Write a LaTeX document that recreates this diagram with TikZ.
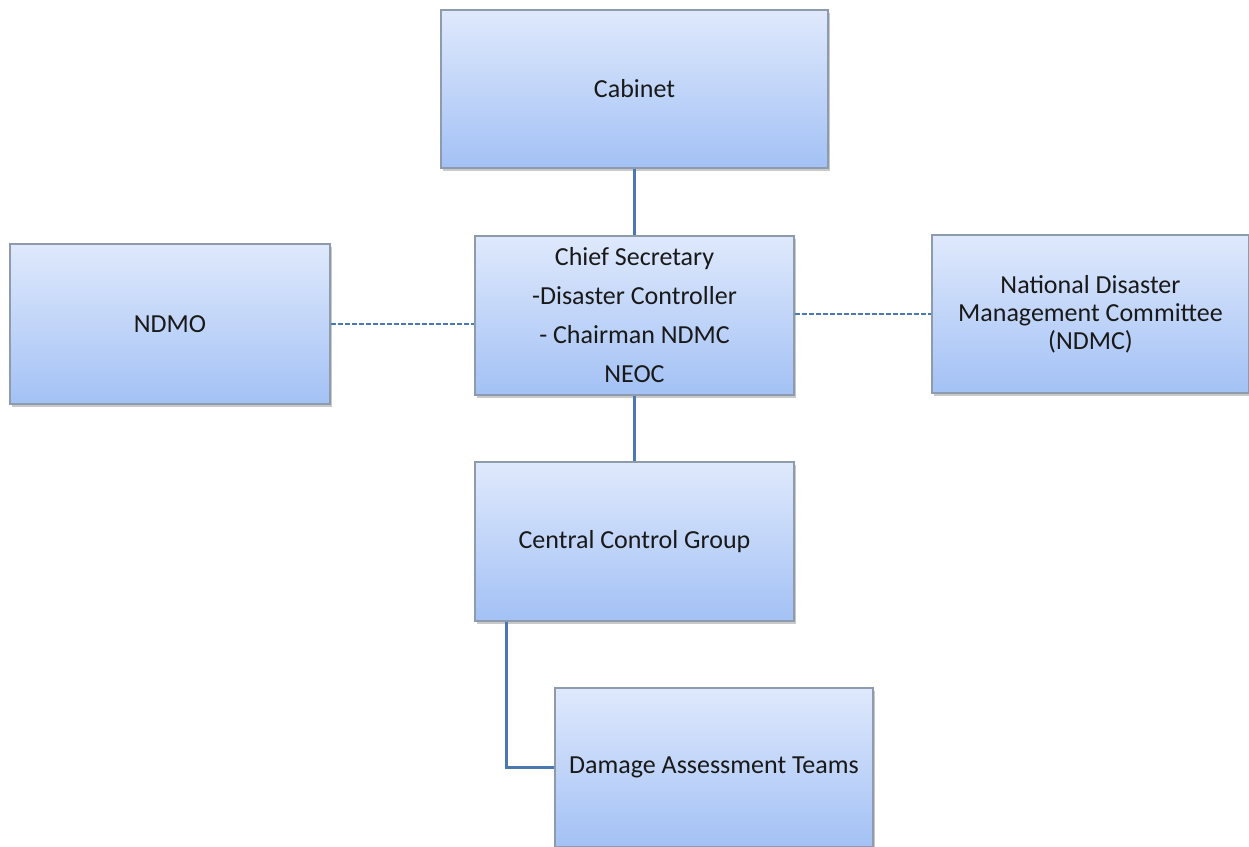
\documentclass[tikz,border=0pt]{standalone}
\usepackage{fontspec}
\setmainfont{Carlito}
\usetikzlibrary{shadows}
\definecolor{boxtop}{HTML}{DFE9FC}
\definecolor{boxbot}{HTML}{A3C1F5}
\definecolor{boxline}{HTML}{8E9BAD}
\definecolor{linkblue}{HTML}{4A78B0}
\tikzset{
  orgbox/.style={rectangle, draw=boxline, line width=1.2pt,
    top color=boxtop, bottom color=boxbot,
    minimum width=319pt, minimum height=159pt, inner sep=0pt,
    align=center, text=black!90,
    font=\fontsize{26}{31}\selectfont,
    drop shadow={opacity=0.35, shadow xshift=1.5pt, shadow yshift=-2.5pt, fill=black!60}},
  solidlink/.style={draw=linkblue, line width=3.5pt},
  dashlink/.style={draw=linkblue, line width=1.6pt, dash pattern=on 5pt off 2pt}
}
\begin{document}
\begin{tikzpicture}[x=1pt, y=-1pt]
\useasboundingbox (0,0) rectangle (1249,846);
\clip (0,0) rectangle (1249,846);
\fill[white] (0,0) rectangle (1249,846);

% organisation boxes
\node[orgbox, minimum width=387pt, minimum height=158pt] (cab) at (634.5,89) {Cabinet};
\node[orgbox, font=\fontsize{26}{39}\selectfont] (cs) at (634.5,315.5)
      {Chief Secretary\\-Disaster Controller\\- Chairman NDMC\\NEOC};
\node[orgbox, minimum width=320pt, minimum height=160pt] (ndmo) at (170,324) {NDMO};
\node[orgbox, minimum width=317pt, minimum height=158pt,
      font=\fontsize{26}{28}\selectfont] (ndmc) at (1090.5,314)
      {National Disaster\\Management Committee\\(NDMC)};
\node[orgbox] (ccg) at (634.5,541.5) {Central Control Group};
\node[orgbox, minimum width=318pt] (dat) at (714,767.5) {Damage Assessment Teams};

% reporting lines
\draw[solidlink] (cab.south) -- (cs.north);
\draw[solidlink] (cs.south) -- (ccg.north);
\coordinate (ccgfoot) at ([xshift=32pt]ccg.south west);
\draw[solidlink] (ccgfoot) |- (dat.west);

% advisory links
\draw[dashlink] (ndmo.east) -- (ndmo.east -| cs.west);
\draw[dashlink] (ndmc.west -| cs.east) -- (ndmc.west);
\end{tikzpicture}
\end{document}
